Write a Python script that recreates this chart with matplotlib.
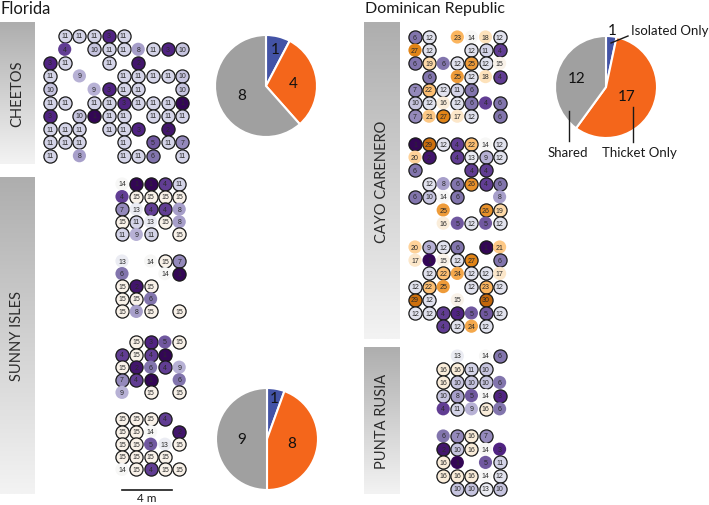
import numpy as np
import matplotlib
matplotlib.use("Agg")
import matplotlib.pyplot as plt
from matplotlib.colors import TwoSlopeNorm, LinearSegmentedColormap

# grids: "." = empty cell, "n" suffix = no black ring
cheetos = [
    ". 11 11 11 3 11 . . . .",
    ". 4n . 10 11 11 8n 11 3 10",
    "3 11 . . 11 . 2 . . .",
    "11 . 9n . . 11 11 11 11 10",
    "10 . . 9n 3 11 11 . . 10",
    "11 11 . 11 11 3 11 11 11 1",
    "3 . 10 1 11 11 . 11 11 11",
    "11 11 11 . 11 11 3 . 2 .",
    "11 11 11 . . 11 . 5 11 7",
    "11 . 8n . . 11 11 6 . 11",
]
sunny_a = [
    "14n 1 1 4 11",
    "4n 15 15 15 15",
    "7 13n 4 4 8n",
    "15 11 13n 15 8n",
    "11 9n 11 . 15",
]
sunny_b = [
    "13n . 14n 15 7",
    "6n . . 14n 1",
    "15 2 15 . .",
    "15 15 6n . .",
    "15 8n 15 . 15",
]
sunny_c = [
    ". 15 3 5n 15",
    "4 15 4 1 .",
    "15 2 6n 4 9n",
    "7 4 1 . 6n",
    "9n . 15 . 15",
]
sunny_d = [
    "15 15 15 4 .",
    "15 15 14n . 2",
    "15 15 5n 13n 15",
    "15 15 15 15 .",
    "14n 15 4 15 15",
]
cayo_a = [
    "6 12 . 23n 14n 18n 12",
    "27n 12 . . 12 11 4",
    "6 19 6n 12 25 12 15n",
    ". 6 . 25n 12 18n 4",
    "7 22 12 11 6 . .",
    "10 12 16n 12 6 4n 6",
    "7 21n 27 17n 12 . 6",
]
cayo_b = [
    "1 29 12 4 22 14n 12",
    "20n 2 . 4 13 9 12",
    "6 . . . 4 4 .",
    ". 12 8n 6 26 4 6",
    "6 10 14n 6 . . 8n",
    ". . 25n . . 26 19",
    ". . 16n 5n 12 5n 12",
]
cayo_c = [
    "20n 9 12 6 . 1 21n",
    "17n 1n 15n 12 27 . 6",
    ". 12 22 24n 12 12 17n",
    "12 22 25n . 12 23 12",
    "29 12 . 15n . 30 .",
    "12 12 4 3 5n 5 12",
    ". . 4 12 24n 12 .",
]
punta_a = [
    ". 13n . 14n 6",
    "16 16 11 10 .",
    "16 10 10 10 6n",
    "10 8 5n 14n 3",
    "4n 11 9n 16 6n",
]
punta_b = [
    "6n 7 16 7 .",
    "2 10 16 14n 3n",
    "16 1n . 5n 11",
    "16 16 16 14n 12",
    ". 10 10 13 10",
]

pie_labels = ["Isolated Only", "Thicket Only", "Shared"]
pie_colors = ["#4353a6", "#f4661b", "#a0a0a0"]
cheetos_pie = [1, 4, 8]
sunny_pie = [1, 8, 9]
dr_pie = [1, 17, 12]

W, H = 709, 506
fig = plt.figure(figsize=(W / 100, H / 100), dpi=100)
fig.patch.set_facecolor("white")

cmap = plt.get_cmap("PuOr_r")
norm = TwoSlopeNorm(vmin=0.5, vcenter=14, vmax=36)
box_cmap = LinearSegmentedColormap.from_list("box", ["#aeaeae", "#f3f3f3"])


def px_axes(l, t, w, h):
    return fig.add_axes([l / W, 1 - (t + h) / H, w / W, h / H])


def draw_grid(rows, x0, y0, dx, dy):
    cells = [r.split() for r in rows]
    nr, nc = len(cells), len(cells[0])
    ax = px_axes(x0 - dx / 2, y0 - dy / 2, nc * dx, nr * dy)
    ax.set_xlim(-0.5, nc - 0.5)
    ax.set_ylim(nr - 0.5, -0.5)
    ax.axis("off")
    for i, row in enumerate(cells):
        for j, tok in enumerate(row):
            if tok == ".":
                continue
            ring = not tok.endswith("n")
            v = int(tok.rstrip("n"))
            ax.scatter(j, i, s=90, color=cmap(norm(v)),
                       edgecolors="#1a1a1a" if ring else "none",
                       linewidths=0.9, clip_on=False, zorder=2)
            ax.text(j, i, str(v), ha="center", va="center", fontsize=5,
                    color="#2a2a2a", family="Liberation Sans", zorder=3)
    return ax


def side_box(l, t, w, h, label):
    ax = px_axes(l, t, w, h)
    ax.imshow(np.linspace(0, 1, 200).reshape(-1, 1), cmap=box_cmap,
              aspect="auto", extent=[0, 1, 0, 1])
    ax.set_xlim(0, 1)
    ax.set_ylim(0, 1)
    ax.axis("off")
    ax.text(0.5, 0.5, label, rotation=90, ha="center", va="center",
            fontsize=10.5, color="#2b2b2b", family="Lato")


def draw_pie(cx, cy, r, vals, dists, show=(True, True, True)):
    ax = px_axes(cx - r, cy - r, 2 * r, 2 * r)
    ax.pie(vals, colors=pie_colors, startangle=90, counterclock=False,
           wedgeprops=dict(edgecolor="white", linewidth=1.5), radius=1)
    ax.set_xlim(-1, 1)
    ax.set_ylim(-1, 1)
    ax.set_aspect("auto")
    total = float(sum(vals))
    start = 0.0
    for v, d, s in zip(vals, dists, show):
        mid = np.deg2rad((start + v / 2) / total * 360)
        start += v
        if s:
            ax.text(d * np.sin(mid), d * np.cos(mid), str(v), ha="center",
                    va="center", fontsize=11, color="#111111", family="Lato")
    return ax


# titles
fig.text(0 / W, 1 - 9 / H, "Florida", fontsize=12, family="Lato",
         va="center", ha="left", color="#1a1a1a")
fig.text(365 / W, 1 - 9 / H, "Dominican Republic", fontsize=11.5,
         family="Lato", va="center", ha="left", color="#1a1a1a")

side_box(0, 23, 35, 142, "CHEETOS")
side_box(0, 178, 35, 317, "SUNNY ISLES")
side_box(364, 23, 36, 317, "CAYO CARENERO")
side_box(364, 348, 36, 147, "PUNTA RUSIA")

draw_grid(cheetos, 50, 37, 14.7, 13.3)
for rows, y0 in zip([sunny_a, sunny_b, sunny_c, sunny_d], [185, 262, 343, 420]):
    draw_grid(rows, 122, y0, 14.3, 12.6)
for rows, y0 in zip([cayo_a, cayo_b, cayo_c], [38, 145, 248]):
    draw_grid(rows, 415, y0, 14.1, 13.2)
for rows, y0 in zip([punta_a, punta_b], [357, 437]):
    draw_grid(rows, 443.2, y0, 14.1, 13.2)

draw_pie(266, 87, 51, cheetos_pie, [0.75, 0.53, 0.5])
draw_pie(267, 440, 51, sunny_pie, [0.82, 0.5, 0.5])
draw_pie(606, 88, 51, dr_pie, [1.12, 0.45, 0.6])

# overlay for annotations and scale bar (pixel coords)
ov = fig.add_axes([0, 0, 1, 1], zorder=10)
ov.set_xlim(0, W)
ov.set_ylim(H, 0)
ov.axis("off")
ov.patch.set_alpha(0)
ov.plot([611, 628], [44, 37], color="#1a1a1a", lw=1)
ov.text(631, 31, pie_labels[0], fontsize=9.5, family="Lato", va="center",
        ha="left", color="#1a1a1a")
ov.plot([569, 569], [112, 142], color="#1a1a1a", lw=1)
ov.text(568, 153, pie_labels[2], fontsize=9.5, family="Lato", va="center",
        ha="center", color="#1a1a1a")
ov.plot([633, 633], [108, 143], color="#1a1a1a", lw=1)
ov.text(639, 153, pie_labels[1], fontsize=9.5, family="Lato", va="center",
        ha="center", color="#1a1a1a")

ov.plot([122, 172], [491, 491], color="#1a1a1a", lw=1.2)
ov.text(147, 498.5, "4 m", fontsize=8.5, family="Lato", va="center",
        ha="center", color="#1a1a1a")

fig.savefig("out.png", dpi=100)
